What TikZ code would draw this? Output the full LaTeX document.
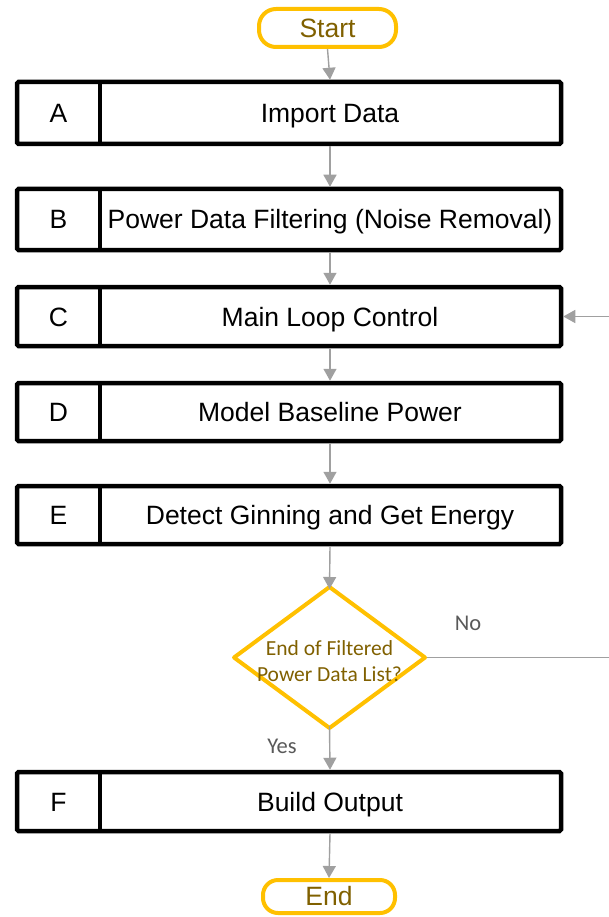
\documentclass[tikz,border=0pt]{standalone}
\usepackage{fontspec}
\setmainfont{Liberation Sans}
\newfontfamily\calibrilike{Carlito}
\usetikzlibrary{arrows.meta,calc}
\definecolor{gold}{RGB}{255,192,0}
\definecolor{goldtext}{RGB}{128,96,0}
\definecolor{flowgray}{RGB}{160,160,160}
\definecolor{labelgray}{RGB}{89,89,89}
\tikzset{
  terminal/.style={draw=gold, line width=4pt, rounded corners=17pt, text=goldtext,
    font=\fontsize{26.5}{30}\selectfont, inner sep=0pt},
  stepbox/.style={draw=black, line width=4.5pt, rounded corners=1.5pt},
  steptext/.style={font=\fontsize{26.5}{30}\selectfont, text=black, anchor=base},
  decision/.style={draw=gold, line width=4pt, line join=round},
  dectext/.style={text=goldtext, font=\calibrilike\fontsize{21.5}{26}\selectfont, align=center},
  flow/.style={draw=flowgray, line width=1.4pt, -{Triangle[length=12pt,width=13pt]}},
  branch/.style={text=labelgray, font=\calibrilike\fontsize{22.5}{26}\selectfont}
}
\begin{document}
\begin{tikzpicture}[x=1pt,y=-1pt]
\useasboundingbox (0,0) rectangle (609,917);

% start / end terminals
\node[terminal, minimum width=137pt, minimum height=38pt] (start) at (327.5,28) {Start};
\node[terminal, minimum width=132pt, minimum height=33pt, rounded corners=15pt] (end) at (329,896.5) {End};

% process steps: letter cell + description cell
\newcommand{\flowstep}[5]{%
  \draw[stepbox] (17,#2) rectangle (561,#3);
  \draw[line width=4.5pt] (100,#2) -- (100,#3);
  \node[steptext] (#1l) at (58.5,{(#2+#3)/2+9.5}) {#4};
  \node[steptext] (#1t) at (330,{(#2+#3)/2+9.5}) {#5};
  \coordinate (#1n) at (330,{#2-2.25});
  \coordinate (#1s) at (330,{#3+2.25});
  \coordinate (#1e) at (563.25,{(#2+#3)/2});
}
\flowstep{A}{82}{144}{A}{Import Data}
\flowstep{B}{189}{250}{B}{Power Data Filtering (Noise Removal)}
\flowstep{C}{287}{346}{C}{Main Loop Control}
\flowstep{D}{383}{441}{D}{Model Baseline Power}
\flowstep{E}{486}{544}{E}{Detect Ginning and Get Energy}
\flowstep{F}{772}{831}{F}{Build Output}

% decision diamond
\coordinate (decn) at (329.5,587);
\coordinate (dece) at (425,657.5);
\coordinate (decs) at (329.5,728);
\coordinate (decw) at (234,657.5);
\draw[decision] (decn) -- (dece) -- (decs) -- (decw) -- cycle;
\node[dectext] (dec) at (329.5,661) {End of Filtered\\Power Data List?};

% connectors
\draw[flow] (start.south) -- (An);
\draw[flow] (As) -- (Bn);
\draw[flow] (Bs) -- (Cn);
\draw[flow] (Cs) -- (Dn);
\draw[flow] (Ds) -- (En);
\draw[flow] (Es) -- ([yshift=-2pt]decn);
\draw[flow] ([yshift=2pt]decs) -- (Fn);
\draw[flow] (Fs) -- (end.north);
\draw[flow] ([xshift=2pt]dece) -- (614,657.5) |- (Ce);

% branch labels
\node[branch] (no) at (468,623) {No};
\node[branch] (yes) at (282,746) {Yes};
\end{tikzpicture}
\end{document}
